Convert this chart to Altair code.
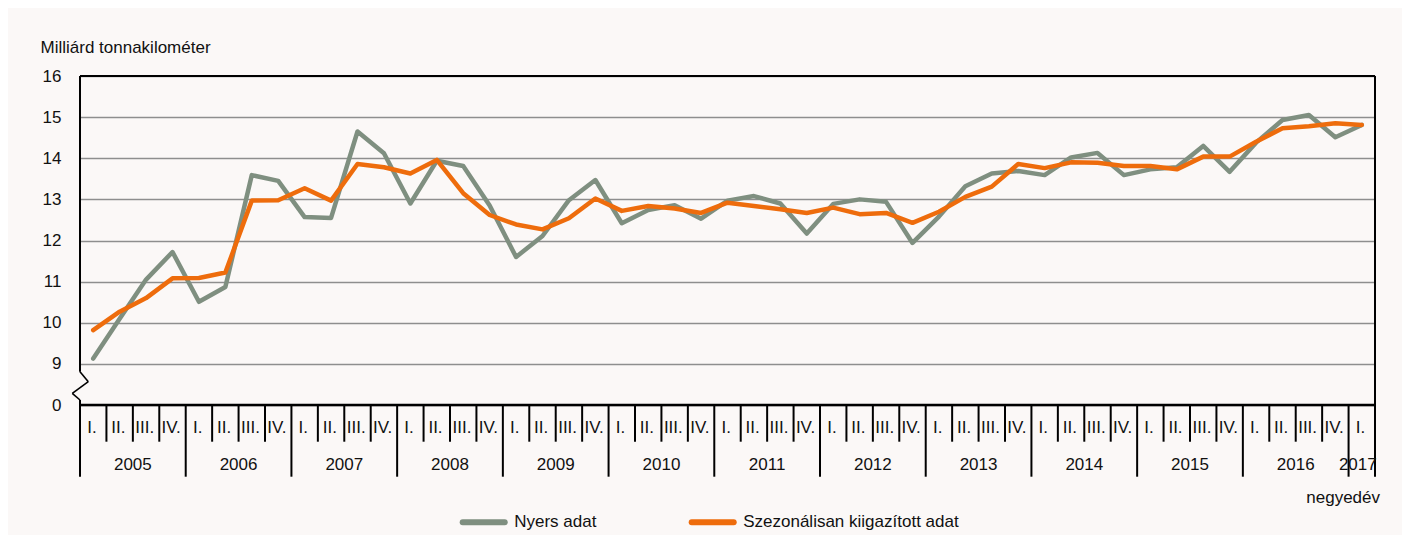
import altair as alt
import pandas as pd

# ---- data ----
years = ["2005", "2006", "2007", "2008", "2009", "2010", "2011", "2012",
         "2013", "2014", "2015", "2016", "2017"]
quarter_names = ["I.", "II.", "III.", "IV."]
n_quarters = 49  # 2005 Q1 .. 2017 Q1

raw = [9.13, 10.10, 11.05, 11.72,
       10.51, 10.87, 13.59, 13.45,
       12.57, 12.55, 14.65, 14.12,
       12.90, 13.94, 13.81, 12.85,
       11.60, 12.11, 12.98, 13.47,
       12.42, 12.74, 12.86, 12.53,
       12.97, 13.08, 12.90, 12.17,
       12.89, 13.00, 12.94, 11.94,
       12.58, 13.32, 13.63, 13.69,
       13.59, 14.02, 14.13, 13.59,
       13.73, 13.78, 14.30, 13.67,
       14.38, 14.93, 15.05, 14.51,
       14.81]
adjusted = [9.82, 10.27, 10.60, 11.08,
            11.09, 11.22, 12.97, 12.98,
            13.27, 12.97, 13.86, 13.78,
            13.63, 13.96, 13.15, 12.62,
            12.39, 12.27, 12.54, 13.02,
            12.72, 12.84, 12.78, 12.67,
            12.92, 12.84, 12.76, 12.67,
            12.80, 12.64, 12.67, 12.43,
            12.70, 13.06, 13.31, 13.86,
            13.76, 13.90, 13.89, 13.81,
            13.81, 13.73, 14.04, 14.04,
            14.40, 14.73, 14.78, 14.85,
            14.81]
series_names = ["Nyers adat", "Szezonálisan kiigazított adat"]
series_colors = ["#7F8F80", "#EE6C0C"]
y_ticks = [8, 9, 10, 11, 12, 13, 14, 15, 16]

# ---- tables built from the lists ----
rows = []
for i in range(n_quarters):
    rows.append({"pos": i + 0.5, "value": raw[i], "series": series_names[0]})
    rows.append({"pos": i + 0.5, "value": adjusted[i], "series": series_names[1]})
df = pd.DataFrame(rows)

qlab = pd.DataFrame({"pos": [i + 0.5 for i in range(n_quarters)],
                     "label": [quarter_names[i % 4] for i in range(n_quarters)]})
ylab = pd.DataFrame({"pos": [min(4 * k + 2, n_quarters - 0.65) for k in range(len(years))],
                     "label": years})
bounds = list(range(n_quarters))  # 0..48
qsep = pd.DataFrame({"b": [b for b in bounds if b % 4 != 0]})
ysep = pd.DataFrame({"b": [b for b in bounds if b % 4 == 0]})

W, H = 1295, 329
FONT = "Liberation Sans, Arial, sans-serif"
TXT = "#111111"

xs = alt.Scale(domain=[0, n_quarters], nice=False, zero=False)
ys = alt.Scale(domain=[8, 16], nice=False, zero=False)

lines = alt.Chart(df).mark_line(strokeWidth=4.5, strokeCap="round", strokeJoin="round").encode(
    x=alt.X("pos:Q", scale=xs, axis=None),
    y=alt.Y("value:Q", scale=ys,
            axis=alt.Axis(values=y_ticks, grid=True, gridColor="#8E8E8E", gridWidth=1.3,
                          domain=False, ticks=False, labelPadding=19,
                          labelFontSize=17, labelColor=TXT, labelFont=FONT,
                          labelExpr="datum.value == 8 ? '0' : datum.label",
                          title="Milliárd tonnakilométer", titleAngle=0, titleAlign="left",
                          titleBaseline="middle", titleX=-40, titleY=-29,
                          titleFontSize=17, titleFontWeight="normal", titleFont=FONT,
                          titleColor=TXT)),
    color=alt.Color("series:N", scale=alt.Scale(domain=series_names, range=series_colors),
                    legend=None),
    order=alt.Order("series:N"),
)

one = pd.DataFrame({"k": [0]})


def seg(x1, y1, x2, y2, w=2.0, color="#000000"):
    return alt.Chart(one).mark_rule(strokeWidth=w, color=color).encode(
        x=alt.value(x1), y=alt.value(y1), x2=alt.value(x2), y2=alt.value(y2))


frame = [
    seg(0, 0, W, 0),                 # top
    seg(0, H, W, H, w=2.5),          # bottom
    seg(W, 0, W, 400.7),             # right, extends to year row
    seg(0, 0, 0, 295.7),             # left upper
    seg(0, 295.7, 8.3, 305.7, w=1.6),
    seg(8.3, 305.7, -7.7, 317.3, w=1.6),
    seg(-7.7, 317.3, 0, 324, w=1.6),
    seg(0, 324, 0, H),
]

qrules = alt.Chart(qsep).mark_rule(strokeWidth=2, color="#000000").encode(
    x=alt.X("b:Q", scale=xs), y=alt.value(H), y2=alt.value(365.7))
yrules = alt.Chart(ysep).mark_rule(strokeWidth=2, color="#000000").encode(
    x=alt.X("b:Q", scale=xs), y=alt.value(H), y2=alt.value(400.7))

qtext = alt.Chart(qlab).mark_text(fontSize=17, font=FONT, color=TXT, baseline="middle",
                                  align="center", dx=-1.3).encode(
    x=alt.X("pos:Q", scale=xs), y=alt.value(352), text="label:N")
ytext = alt.Chart(ylab).mark_text(fontSize=17, font=FONT, color=TXT, baseline="middle",
                                  align="center").encode(
    x=alt.X("pos:Q", scale=xs), y=alt.value(389), text="label:N")

xtitle = alt.Chart(pd.DataFrame({"t": ["negyedév"]})).mark_text(
    fontSize=17, font=FONT, color=TXT, baseline="middle", align="right").encode(
    x=alt.value(1300), y=alt.value(422.3), text="t:N")

leg = []
leg_x = [382.7, 611.7]
for name, col, lx in zip(series_names, series_colors, leg_x):
    leg.append(alt.Chart(pd.DataFrame({"t": [name]})).mark_rule(
        strokeWidth=6, color=col, strokeCap="round").encode(
        x=alt.value(lx), x2=alt.value(lx + 42), y=alt.value(446.3), y2=alt.value(446.3)))
    leg.append(alt.Chart(pd.DataFrame({"t": [name]})).mark_text(
        fontSize=17, font=FONT, color=TXT, baseline="middle", align="left").encode(
        x=alt.value(lx + 51.5), y=alt.value(445.8), text="t:N"))

chart = alt.layer(lines, *frame, qrules, yrules, qtext, ytext, xtitle, *leg).properties(
    width=W, height=H,
    autosize=alt.AutoSizeParams(type="none"),
    padding={"left": 72, "top": 68, "right": 27, "bottom": 130},
    background="#FBF8F7",
).configure_view(stroke=None)

chart.save("out.html", embed_options={"renderer": "svg", "actions": False})
